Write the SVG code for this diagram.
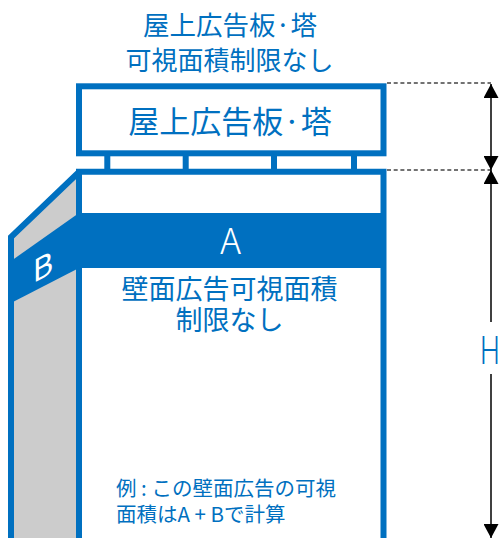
<svg xmlns="http://www.w3.org/2000/svg" width="499" height="538" viewBox="0 0 499 538">
<style>
.bl{fill:none;stroke:#0070C0;stroke-width:6}
.jp{font-family:"Noto Sans CJK JP","Noto Sans",sans-serif;fill:#0070C0}
.lat{font-family:"Noto Sans CJK JP","Noto Sans",sans-serif;font-weight:300}
.wt{font-family:"Noto Sans CJK JP","Noto Sans",sans-serif;fill:#fff}
.dash{stroke:#444;stroke-width:1.3;stroke-dasharray:4 2.7;fill:none}
.dim{stroke:#000;stroke-width:1.5;fill:none}
</style>
<defs>
<marker id="ah" viewBox="0 0 14 15" refX="14" refY="7.5" markerWidth="14" markerHeight="15" markerUnits="userSpaceOnUse" orient="auto">
<path d="M0,0 L14,7.5 L0,15 z" fill="#000"/>
</marker>
</defs>
<rect width="499" height="538" fill="#fff"/>

<g id="title">
<text class="jp" x="230" y="35" font-size="26.5" text-anchor="middle">屋上広告板·塔</text>
<text class="jp" x="229.5" y="70" font-size="26" text-anchor="middle">可視面積制限なし</text>
</g>

<g id="side-panel">
<polygon points="11,237 79,172 79,545 11,545" fill="#CCCCCC"/>
<polygon points="11,261 79,213 79,268 11,303" fill="#0070C0"/>
<polyline class="bl" points="11,545 11,237 79,172"/>
<g transform="translate(43,278) skewY(-28)">
<text class="wt" x="0" y="0" font-size="31" text-anchor="middle">B</text>
</g>
</g>

<g id="wall">
<polyline class="bl" points="79,545 79,171.7 383.5,171.7 383.5,545"/>
<rect x="79" y="213" width="304.5" height="55" fill="#0070C0"/>
<text class="wt" x="230.5" y="254" font-size="36" font-weight="300" text-anchor="middle">A</text>
<text class="jp" x="229.5" y="299" font-size="27" text-anchor="middle">壁面広告可視面積</text>
<text class="jp" x="229.5" y="330" font-size="27" text-anchor="middle">制限なし</text>
<text class="jp" x="116" y="496" font-size="20.5">例 : この壁面広告の可視</text>
<text class="jp" x="116" y="522" font-size="20.5">面積はA + Bで計算</text>
</g>

<g id="rooftop-sign">
<rect class="bl" x="79" y="86.3" width="304.5" height="67"/>
<g fill="#0070C0">
<rect x="104.3" y="156" width="6" height="13"/>
<rect x="182.7" y="156" width="6" height="13"/>
<rect x="271" y="156" width="6" height="13"/>
<rect x="351" y="156" width="6" height="13"/>
</g>
<text class="jp" x="230" y="133" font-size="31" text-anchor="middle">屋上広告板·塔</text>
</g>

<g id="connectors">
<line class="dash" x1="387" y1="83" x2="491" y2="83"/>
<line class="dash" x1="387" y1="170" x2="491" y2="170"/>
<line class="dim" x1="491" y1="100" x2="491" y2="84" marker-end="url(#ah)"/>
<line class="dim" x1="491" y1="100" x2="491" y2="170" marker-end="url(#ah)"/>
<line class="dim" x1="491" y1="322" x2="491" y2="170" marker-end="url(#ah)"/>
<line class="dim" x1="491" y1="374" x2="491" y2="538" marker-end="url(#ah)"/>
</g>

<g id="h-label" transform="translate(480,364) scale(0.72,1)">
<text x="0" y="0" font-family="Roboto, sans-serif" font-weight="300" font-size="39" fill="#0070C0">H</text>
</g>
</svg>
